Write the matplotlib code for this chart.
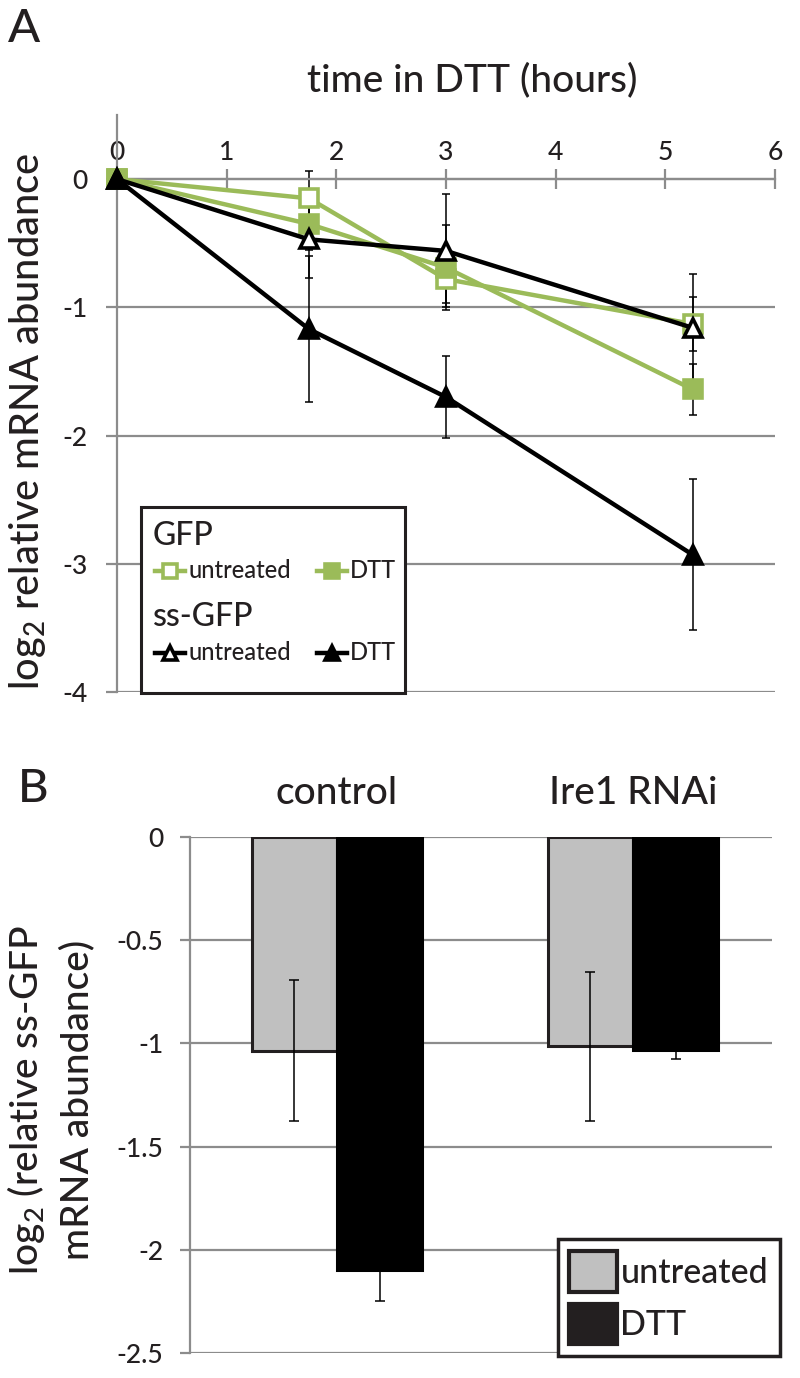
import numpy as np
import matplotlib
matplotlib.use("Agg")
import matplotlib.pyplot as plt
from matplotlib.patches import Rectangle, Patch
from matplotlib.lines import Line2D

plt.rcParams["font.family"] = ["Lato", "DejaVu Sans"]
plt.rcParams["font.weight"] = "medium"
plt.rcParams["mathtext.fontset"] = "custom"
plt.rcParams["mathtext.rm"] = "Lato:medium"
plt.rcParams["axes.unicode_minus"] = False

# Panel A: time course, log2 relative mRNA abundance
hours            = [0, 1.75, 3, 5.25]
gfpUntreated     = [0, -0.15, -0.78, -1.13]
gfpUntreatedErr  = [0, 0.21, 0.19, 0.21]
gfpDtt           = [0, -0.35, -0.69, -1.64]
gfpDttErr        = [0, 0.20, 0.33, 0.20]
ssUntreated      = [0, -0.47, -0.56, -1.16]
ssUntreatedErr   = [0, 0.30, 0.44, 0.42]
ssDtt            = [0, -1.17, -1.70, -2.93]
ssDttErr         = [0, 0.57, 0.32, 0.59]
hourTicks        = [0, 1, 2, 3, 4, 5, 6]
abundanceTicks   = [0, -1, -2, -3, -4]

# Panel B: ss-GFP after DTT, control vs Ire1 RNAi
groups           = ["control", "Ire1 RNAi"]
untreated        = [-1.035, -1.015]
untreatedErr     = [0.34, 0.36]
dtt              = [-2.10, -1.03]
dttErr           = [0.15, 0.045]
ssAbundanceTicks = [0, -0.5, -1, -1.5, -2, -2.5]

GREEN = "#9bbb59"
GRAY  = "#8c8c8c"
INK   = "#231f20"
W, H  = 800, 1378

fig = plt.figure(figsize=(W/100, H/100), dpi=100)


def FigBox(left, top, right, bottom):
    return [left/W, 1-bottom/H, (right-left)/W, (bottom-top)/H]


def FigXY(px, py):
    return px/W, 1-py/H


# ---------------------------------------------------------------- Panel A
axA = fig.add_axes(FigBox(117, 115, 775, 692))
axA.set_xlim(0, 6)
axA.set_ylim(-4, 0.5)
axA.spines["right"].set_visible(False)
axA.spines["bottom"].set_visible(False)
axA.spines["top"].set_position(("data", 0))
for s in ["top", "left"]:
    axA.spines[s].set_color(GRAY)
    axA.spines[s].set_linewidth(1.6)
axA.xaxis.set_ticks_position("top")
axA.set_xticks(hourTicks)
axA.set_yticks(abundanceTicks)
axA.set_yticklabels([f"{v:g}" for v in abundanceTicks])
axA.tick_params(axis="x", direction="inout", length=14, width=1.6, color=GRAY,
                labelsize=19, labelcolor=INK, pad=3)
axA.tick_params(axis="y", direction="out", length=8, width=1.6, color=GRAY,
                labelsize=19, labelcolor=INK, pad=13)
axA.yaxis.grid(True, color=GRAY, linewidth=1.6)
axA.set_axisbelow(True)

series = [
    (gfpUntreated, gfpUntreatedErr, GREEN,   "s", "white"),
    (gfpDtt,       gfpDttErr,       GREEN,   "s", GREEN),
    (ssUntreated,  ssUntreatedErr,  "black", "^", "white"),
    (ssDtt,        ssDttErr,        "black", "^", "black"),
]
for y, err, color, marker, face in series:
    axA.errorbar(hours, y, yerr=err, fmt="none", ecolor="black", elinewidth=1.1,
                 capsize=3, capthick=1.1, zorder=2, clip_on=False)
for y, err, color, marker, face in series:
    axA.plot(hours, y, color=color, lw=3.2, marker=marker, ms=12.5, mfc=face,
             mec=color, mew=2.6, zorder=3, clip_on=False)

# legend for panel A (grouped layout, drawn by hand)
x0, y0 = FigXY(141, 693)
x1, y1 = FigXY(405, 507)
fig.add_artist(Rectangle((x0, y0), x1-x0, y1-y0, transform=fig.transFigure,
                         facecolor="white", edgecolor=INK, lw=2.2, zorder=5))


def LegendEntry(px, py, color, marker, face, label):
    xa, ya = FigXY(px-15, py)
    xb, _  = FigXY(px+15, py)
    xm, _  = FigXY(px, py)
    fig.add_artist(Line2D([xa, xb], [ya, ya], transform=fig.transFigure,
                          color=color, lw=3.2, zorder=6))
    fig.add_artist(Line2D([xm], [ya], transform=fig.transFigure, marker=marker,
                          ms=10, mfc=face, mec=color, mew=2.6, zorder=7))
    tx, ty = FigXY(px+18, py)
    fig.text(tx, ty, label, fontsize=17, color=INK, va="center", ha="left", zorder=7)


fig.text(*FigXY(153, 536), "GFP", fontsize=23, color=INK, va="center", zorder=7)
LegendEntry(170, 571, GREEN, "s", "white", "untreated")
LegendEntry(332, 571, GREEN, "s", GREEN, "DTT")
fig.text(*FigXY(153, 617), "ss-GFP", fontsize=23, color=INK, va="center", zorder=7)
LegendEntry(170, 653, "black", "^", "white", "untreated")
LegendEntry(332, 653, "black", "^", "black", "DTT")

fig.text(*FigXY(472, 80), "time in DTT (hours)", fontsize=28, color=INK,
         ha="center", va="center")
fig.text(*FigXY(28, 422), r"log$_\mathregular{2}$ relative mRNA abundance",
         fontsize=28.5, color=INK, rotation=90, ha="center", va="center")
fig.text(*FigXY(8, 8), "A", fontsize=34, color=INK, ha="left", va="top")

# ---------------------------------------------------------------- Panel B
axB = fig.add_axes(FigBox(190, 837, 772, 1353))
x = np.arange(len(groups))
width = 0.288
axB.set_xlim(-0.497, 1.47)
axB.set_ylim(-2.5, 0)
for s in ["top", "right", "bottom"]:
    axB.spines[s].set_visible(False)
axB.spines["left"].set_color(GRAY)
axB.spines["left"].set_linewidth(1.6)
axB.xaxis.set_ticks_position("top")
axB.set_xticks(x)
axB.set_xticklabels(groups)
axB.set_yticks(ssAbundanceTicks)
axB.set_yticklabels([f"{v:g}" for v in ssAbundanceTicks])
axB.tick_params(axis="x", length=0, labelsize=28, labelcolor=INK, pad=19)
axB.tick_params(axis="y", direction="out", length=7, width=1.6, color=GRAY,
                labelsize=19, labelcolor=INK, pad=12)
axB.yaxis.grid(True, color=GRAY, linewidth=1.6)
axB.set_axisbelow(True)

axB.bar(x - width/2, untreated, width, color="#c0c0c0", edgecolor=INK, lw=2.2, zorder=2)
axB.bar(x + width/2, dtt, width, color="black", edgecolor="black", lw=2.2, zorder=2)
axB.errorbar(x - width/2, untreated, yerr=untreatedErr, fmt="none", ecolor="black",
             elinewidth=1.1, capsize=3.5, capthick=1.1, zorder=3)
axB.errorbar(x + width/2, dtt, yerr=dttErr, fmt="none", ecolor="black",
             elinewidth=1.1, capsize=3.5, capthick=1.1, zorder=1.5)

leg = axB.legend(handles=[Patch(facecolor="#c0c0c0", edgecolor=INK, lw=3),
                          Patch(facecolor=INK, edgecolor=INK, lw=3)],
                 labels=["untreated", "DTT"], loc="lower right",
                 bbox_to_anchor=FigXY(780, 1356), bbox_transform=fig.transFigure,
                 fontsize=24.5, frameon=True, fancybox=False, framealpha=1,
                 edgecolor=INK, borderpad=0.35, handlelength=1.4, handleheight=1.45,
                 handletextpad=0.1, labelspacing=0.35, borderaxespad=0)
leg.get_frame().set_linewidth(2.5)
for t in leg.get_texts():
    t.set_color(INK)

fig.text(*FigXY(50, 1100), "log$_\\mathregular{2}$ (relative ss-GFP\nmRNA abundance)",
         fontsize=28, color=INK, rotation=90, ha="center", va="center",
         multialignment="center", linespacing=1.45)
fig.text(*FigXY(18, 768), "B", fontsize=34, color=INK, ha="left", va="top")

fig.savefig("out.png", dpi=100)
